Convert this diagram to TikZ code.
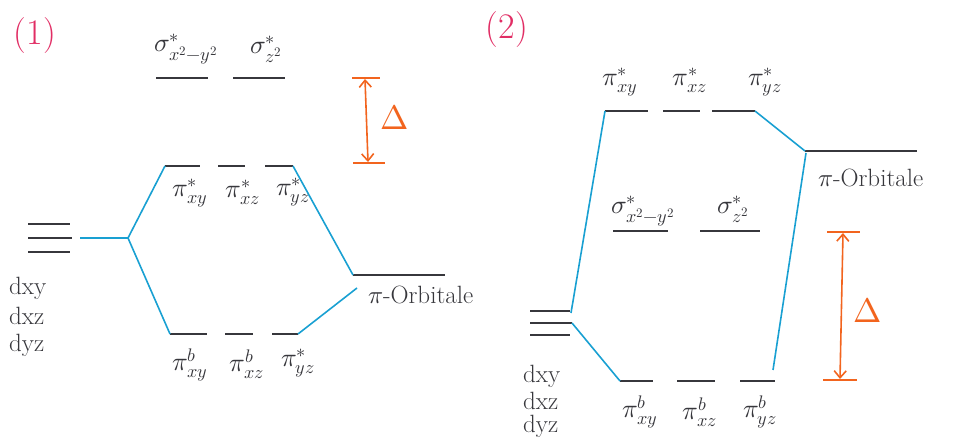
\documentclass[tikz,border=0pt]{standalone}
\usepackage{fontspec}
\usepackage{unicode-math}
\setmathfont{Latin Modern Math}
\usetikzlibrary{arrows.meta}
\definecolor{bluec}{RGB}{25,160,210}
\definecolor{orangec}{RGB}{242,100,30}
\definecolor{pinkc}{RGB}{225,45,100}
\definecolor{levelc}{RGB}{55,55,60}
\begin{document}
\begin{tikzpicture}[x=1pt,y=-1pt,
  lvl/.style={line width=2.4pt, draw=levelc},
  conn/.style={line width=1.6pt, draw=bluec},
  gaparrow/.style={line width=1.6pt, draw=orangec,
    {Straight Barb[length=7pt,width=12pt]}-{Straight Barb[length=7pt,width=12pt]}},
  gapcap/.style={line width=1.8pt, draw=orangec},
  lab/.style={font=\fontsize{26}{28}\selectfont, inner sep=0pt, text=levelc},
  dlab/.style={font=\fontsize{25}{28}\selectfont, inner sep=0pt, text=levelc},
  biglab/.style={font=\fontsize{25}{28}\selectfont, inner sep=0pt, text=levelc},
  num/.style={font=\fontsize{36}{40}\selectfont, inner sep=0pt, text=pinkc},
  dlt/.style={font=\fontsize{34}{38}\selectfont, inner sep=0pt, text=orangec},
]
\useasboundingbox (0,0) rectangle (964,446);

%% ================= Panel (1) =================
\node[num] (n1) at (35,36) {(1)};

% sigma* levels
\coordinate (s1a) at (156,78); \coordinate (s1b) at (208,78);
\coordinate (s2a) at (233,78); \coordinate (s2b) at (285,78);
\draw[lvl] (s1a) -- (s1b);
\draw[lvl] (s2a) -- (s2b);
\node[lab] (ls1) at (186,49) {$\sigma^{*}_{x^2-y^2}$};
\node[lab] (ls2) at (266,49) {$\sigma^{*}_{z^2}$};

% pi* levels
\coordinate (p1a) at (165,166); \coordinate (p1b) at (200,166);
\coordinate (p2a) at (218,166); \coordinate (p2b) at (245,166);
\coordinate (p3a) at (265,166); \coordinate (p3b) at (293,166);
\draw[lvl] (p1a) -- (p1b);
\draw[lvl] (p2a) -- (p2b);
\draw[lvl] (p3a) -- (p3b);
\node[lab] (lp1) at (190,193) {$\pi^{*}_{xy}$};
\node[lab] (lp2) at (243,192) {$\pi^{*}_{xz}$};
\node[lab] (lp3) at (293,192) {$\pi^{*}_{yz}$};

% d levels
\coordinate (d1a) at (28,224); \coordinate (d1b) at (70,224);
\coordinate (d2a) at (28,238); \coordinate (d2b) at (72,238);
\coordinate (d3a) at (28,252); \coordinate (d3b) at (70,252);
\draw[lvl] (d1a) -- (d1b);
\draw[lvl] (d2a) -- (d2b);
\draw[lvl] (d3a) -- (d3b);
\node[dlab, anchor=west] (ld1) at (9,288) {dxy};
\node[dlab, anchor=west] (ld2) at (9,316) {dxz};
\node[dlab, anchor=west] (ld3) at (9,345) {dyz};

% pi ligand level
\coordinate (L1a) at (353,275); \coordinate (L1b) at (445,275);
\draw[lvl] (L1a) -- (L1b);
\node[biglab, anchor=west] (lL1) at (368,295) {$\pi$-Orbitale};

% pi b levels
\coordinate (b1a) at (170,334); \coordinate (b1b) at (207,334);
\coordinate (b2a) at (225,334); \coordinate (b2b) at (253,334);
\coordinate (b3a) at (272,334); \coordinate (b3b) at (298,334);
\draw[lvl] (b1a) -- (b1b);
\draw[lvl] (b2a) -- (b2b);
\draw[lvl] (b3a) -- (b3b);
\node[lab] (lb1) at (190,365) {$\pi^{b}_{xy}$};
\node[lab] (lb2) at (247,364) {$\pi^{b}_{xz}$};
\node[lab] (lb3) at (298,363) {$\pi^{*}_{yz}$};

% connectors
\coordinate (J1) at (128,238);
\coordinate (d2e) at (80,238);
\coordinate (L1s) at (357,288);
\draw[conn] (d2e) -- (J1);
\draw[conn] (J1) -- (p1a);
\draw[conn] (J1) -- (b1a);
\draw[conn] (p3b) -- (L1a);
\draw[conn] (L1s) -- (b3b);

% Delta
\coordinate (g1t) at (365,79); \coordinate (g1b) at (368,162);
\draw[gaparrow] (g1t) -- (g1b);
\draw[gapcap] (352,78) -- (380,78);
\draw[gapcap] (353,163) -- (385,163);
\node[dlt] (dl1) at (395,117) {$\Delta$};

%% ================= Panel (2) =================
\node[num] (n2) at (507,30) {(2)};

% pi* levels
\coordinate (q1a) at (605,111); \coordinate (q1b) at (648,111);
\coordinate (q2a) at (663,111); \coordinate (q2b) at (700,111);
\coordinate (q3a) at (712,111); \coordinate (q3b) at (755,111);
\draw[lvl] (q1a) -- (q1b);
\draw[lvl] (q2a) -- (q2b);
\draw[lvl] (q3a) -- (q3b);
\node[lab] (lq1) at (620,82) {$\pi^{*}_{xy}$};
\node[lab] (lq2) at (690,80) {$\pi^{*}_{xz}$};
\node[lab] (lq3) at (765,82) {$\pi^{*}_{yz}$};

% pi ligand level
\coordinate (L2a) at (805,151); \coordinate (L2b) at (917,151);
\draw[lvl] (L2a) -- (L2b);
\node[biglab, anchor=west] (lL2) at (818,178) {$\pi$-Orbitale};

% sigma* levels
\coordinate (t1a) at (613,231); \coordinate (t1b) at (668,231);
\coordinate (t2a) at (700,231); \coordinate (t2b) at (760,231);
\draw[lvl] (t1a) -- (t1b);
\draw[lvl] (t2a) -- (t2b);
\node[lab] (lt1) at (643,211) {$\sigma^{*}_{x^2-y^2}$};
\node[lab] (lt2) at (733,209) {$\sigma^{*}_{z^2}$};

% d levels
\coordinate (e1a) at (530,311); \coordinate (e1b) at (570,311);
\coordinate (e2a) at (530,323); \coordinate (e2b) at (572,323);
\coordinate (e3a) at (530,335); \coordinate (e3b) at (570,335);
\draw[lvl] (e1a) -- (e1b);
\draw[lvl] (e2a) -- (e2b);
\draw[lvl] (e3a) -- (e3b);
\node[dlab, anchor=west] (le1) at (523,376) {dxy};
\node[dlab, anchor=west] (le2) at (523,401) {dxz};
\node[dlab, anchor=west] (le3) at (523,426) {dyz};

% pi b levels
\coordinate (c1a) at (620,381); \coordinate (c1b) at (653,381);
\coordinate (c2a) at (677,381); \coordinate (c2b) at (715,381);
\coordinate (c3a) at (740,381); \coordinate (c3b) at (775,381);
\draw[lvl] (c1a) -- (c1b);
\draw[lvl] (c2a) -- (c2b);
\draw[lvl] (c3a) -- (c3b);
\node[lab] (lc1) at (640,412) {$\pi^{b}_{xy}$};
\node[lab] (lc2) at (700,412) {$\pi^{b}_{xz}$};
\node[lab] (lc3) at (760,412) {$\pi^{b}_{yz}$};

% connectors
\coordinate (e1c) at (571,313);
\coordinate (L2s) at (806,153);
\coordinate (c3t) at (773,370);
\draw[conn] (q3b) -- (L2a);
\draw[conn] (q1a) -- (e1c);
\draw[conn] (L2s) -- (c3t);
\draw[conn] (e2b) -- (c1a);

% Delta
\coordinate (g2t) at (843,233); \coordinate (g2b) at (840,379);
\draw[gaparrow] (g2t) -- (g2b);
\draw[gapcap] (827,232) -- (860,232);
\draw[gapcap] (823,380) -- (857,380);
\node[dlt] (dl2) at (868,310) {$\Delta$};
\end{tikzpicture}
\end{document}
